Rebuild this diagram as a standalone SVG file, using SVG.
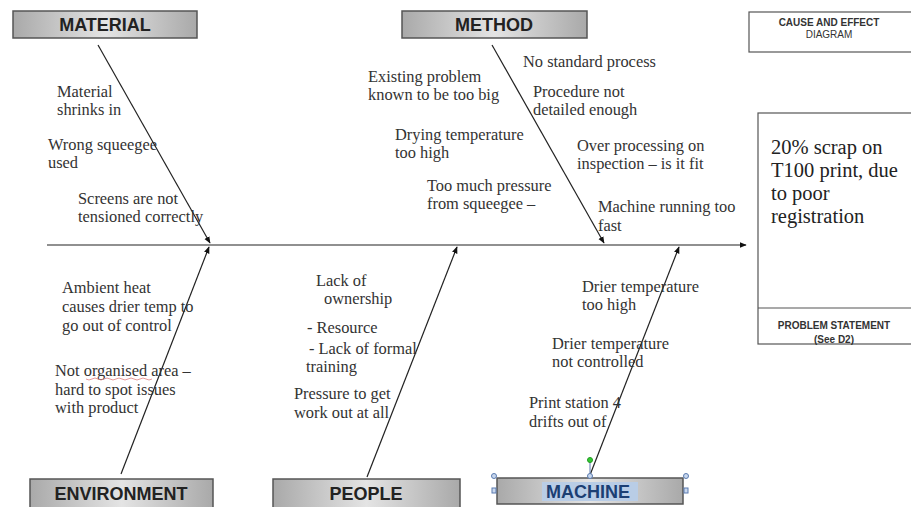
<svg xmlns="http://www.w3.org/2000/svg" width="911" height="507" viewBox="0 0 911 507">
<defs>
<linearGradient id="g" x1="0" y1="0" x2="1" y2="0">
<stop offset="0" stop-color="#a9a9a9"/>
<stop offset="0.5" stop-color="#e4e4e4"/>
<stop offset="1" stop-color="#a9a9a9"/>
</linearGradient>
<marker id="ah" viewBox="0 0 10 10" refX="9" refY="5" markerWidth="7" markerHeight="7" orient="auto" markerUnits="userSpaceOnUse">
<path d="M0,1 L10,5 L0,9 z" fill="#111"/>
</marker>
</defs>
<style>
.hb{fill:url(#g);stroke:#555;stroke-width:1.5}
.ht{font-family:"Liberation Sans",Arial,sans-serif;font-weight:bold;font-size:18px;fill:#222;text-anchor:middle}
.t{font-family:"Liberation Serif","Times New Roman",serif;font-size:16.4px;fill:#333}
.ln{stroke:#222;stroke-width:1.2;fill:none;marker-end:url(#ah)}
.bx{fill:#fff;stroke:#555;stroke-width:1.2}
.st{font-family:"Liberation Sans",Arial,sans-serif;font-weight:bold;font-size:10px;fill:#333;text-anchor:middle}
.pt{font-family:"Liberation Serif","Times New Roman",serif;font-size:20.5px;fill:#222}
.hd{fill:#c9d8ee;stroke:#5a7bb0;stroke-width:1}
</style>
<rect width="911" height="507" fill="#fff"/>
<g id="connectors">
<line class="ln" x1="47" y1="245" x2="746" y2="245"/>
<line class="ln" x1="98" y1="45" x2="210" y2="243"/>
<line class="ln" x1="492" y1="45" x2="604" y2="243"/>
<line class="ln" x1="121" y1="474" x2="209" y2="247"/>
<line class="ln" x1="367" y1="477" x2="457" y2="247"/>
<line class="ln" x1="590" y1="475" x2="679" y2="247"/>
</g>
<g id="material">
<rect class="hb" x="13" y="11" width="184" height="27"/>
<text class="ht" x="105" y="31">MATERIAL</text>
</g>
<g id="method">
<rect class="hb" x="402" y="11" width="185" height="27"/>
<text class="ht" x="494" y="31">METHOD</text>
</g>
<g id="environment">
<rect class="hb" x="30" y="479" width="183" height="30"/>
<text class="ht" x="121" y="500">ENVIRONMENT</text>
</g>
<g id="people">
<rect class="hb" x="273" y="479" width="187" height="30"/>
<text class="ht" x="366" y="500">PEOPLE</text>
</g>
<g id="machine">
<rect class="hb" x="497" y="478" width="186" height="26"/>
<rect x="542" y="482" width="96" height="19" fill="#b9cde6"/>
<text class="ht" x="588" y="498" style="fill:#1c3f73">MACHINE</text>
<line x1="590" y1="462" x2="590" y2="476" stroke="#5a7bb0" stroke-width="1"/>
<circle cx="590" cy="460" r="2.5" fill="#3c3" stroke="#292"/>
<circle class="hd" cx="494" cy="476" r="2.5"/>
<circle class="hd" cx="590" cy="476" r="2.5"/>
<circle class="hd" cx="686" cy="476" r="2.5"/>
<rect class="hd" x="492" y="488" width="4" height="5"/>
<rect class="hd" x="684" y="488" width="4" height="5"/>
</g>
<g id="cause-effect">
<rect class="bx" x="749" y="12" width="165" height="40"/>
<text class="st" x="829" y="26">CAUSE AND EFFECT</text>
<text class="st" x="829" y="38" style="font-weight:normal">DIAGRAM</text>
</g>
<g id="problem">
<rect class="bx" x="758" y="113" width="156" height="231"/>
<line x1="758" y1="308" x2="914" y2="308" stroke="#555" stroke-width="1.2"/>
<text class="pt" x="771" y="154">20% scrap on</text>
<text class="pt" x="771" y="177">T100 print, due</text>
<text class="pt" x="771" y="200">to poor</text>
<text class="pt" x="771" y="223">registration</text>
<text class="st" x="834" y="329">PROBLEM STATEMENT</text>
<text class="st" x="834" y="343">(See D2)</text>
</g>
<g id="material-causes" class="t">
<text x="57" y="97">Material</text>
<text x="57" y="115">shrinks in</text>
<text x="48" y="150">Wrong squeegee</text>
<text x="48" y="168">used</text>
<text x="78" y="204">Screens are not</text>
<text x="78" y="222">tensioned correctly</text>
</g>
<g id="method-causes" class="t">
<text x="368" y="82">Existing problem</text>
<text x="368" y="100">known to be too big</text>
<text x="523" y="67">No standard process</text>
<text x="533" y="97">Procedure not</text>
<text x="533" y="115">detailed enough</text>
<text x="395" y="140">Drying temperature</text>
<text x="395" y="158">too high</text>
<text x="577" y="151">Over processing on</text>
<text x="577" y="169">inspection – is it fit</text>
<text x="427" y="191">Too much pressure</text>
<text x="427" y="209">from squeegee –</text>
<text x="598" y="212">Machine running too</text>
<text x="598" y="231">fast</text>
</g>
<g id="environment-causes" class="t">
<text x="62" y="293">Ambient heat</text>
<text x="62" y="312">causes drier temp to</text>
<text x="62" y="331">go out of control</text>
<text x="55" y="376">Not organised area –</text>
<text x="55" y="395">hard to spot issues</text>
<text x="55" y="413">with product</text>
<path d="M86,379 q3,2 6,0 t6,0 t6,0 t6,0 t6,0 t6,0 t6,0 t6,0 t6,0 t6,0 t6,0" fill="none" stroke="#e08080" stroke-width="0.8"/>
</g>
<g id="people-causes" class="t">
<text x="316" y="286">Lack of</text>
<text x="324" y="304">ownership</text>
<text x="307" y="333">- Resource</text>
<text x="309" y="354">- Lack of formal</text>
<text x="306" y="372">training</text>
<text x="294" y="399">Pressure to get</text>
<text x="294" y="418">work out at all</text>
</g>
<g id="machine-causes" class="t">
<text x="582" y="292">Drier temperature</text>
<text x="582" y="310">too high</text>
<text x="552" y="349">Drier temperature</text>
<text x="552" y="367">not controlled</text>
<text x="529" y="408">Print station 4</text>
<text x="529" y="427">drifts out of</text>
</g>
</svg>
